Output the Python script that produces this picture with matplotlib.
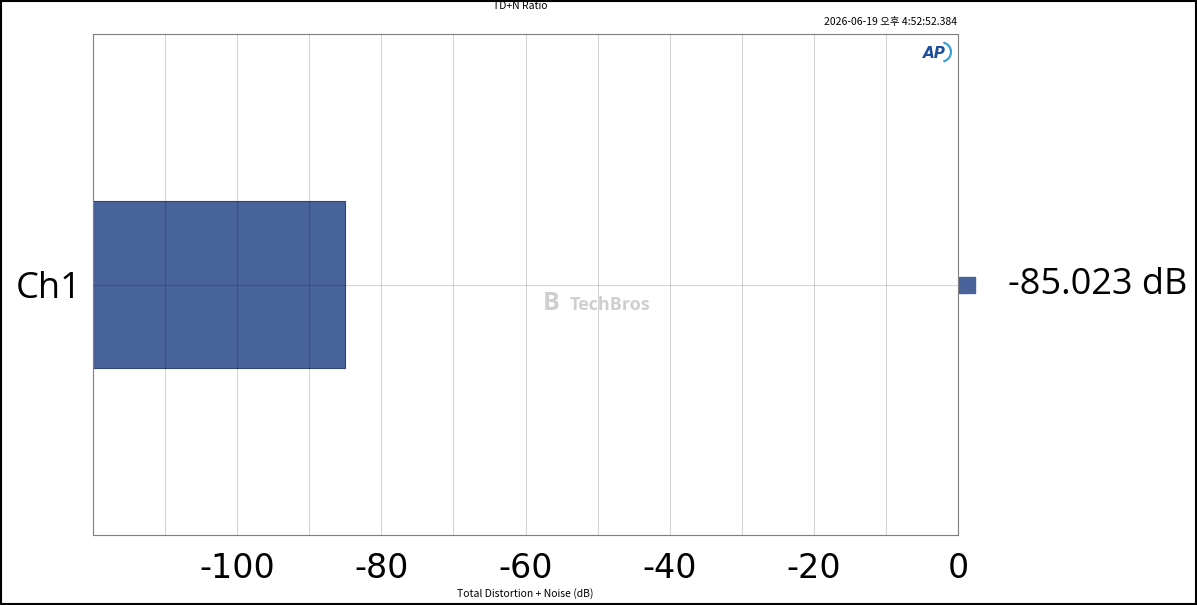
import matplotlib.pyplot as plt
from matplotlib.patches import Rectangle, Arc
import numpy as np

# data
channels = ['Ch1']
thdn_db = [-85.023]
x_ticks = [-100, -80, -60, -40, -20, 0]
x_min, x_max = -120, 0

titulo = 'TD+N Ratio'
carimbo = '2026-06-19 오후 4:52:52.384'
eixo_x = 'Total Distortion + Noise (dB)'

cor_barra = '#48629a'

plt.rcParams['font.family'] = ['Noto Sans CJK KR', 'DejaVu Sans']

fig = plt.figure(figsize=(11.97, 6.05), dpi=100)
ax = fig.add_axes([93/1197, 1 - 535/605, 865/1197, 501/605])

y = np.arange(len(channels))
base = x_min
ax.barh(y, [v - base for v in thdn_db], left=base, height=1.0,
        color=cor_barra, edgecolor='#34466e', linewidth=0.8, zorder=2)

ax.set_xlim(x_min, x_max)
ax.set_ylim(-1.5, 1.5)
ax.set_xticks(np.arange(-110, 0, 10), minor=True)
ax.set_xticks(x_ticks)
ax.set_xticklabels([str(t) for t in x_ticks], fontsize=24,
                   family=['Liberation Sans Narrow', 'DejaVu Sans'])
ax.set_yticks(y)
ax.set_yticklabels(channels, fontsize=26, family=['Open Sans', 'DejaVu Sans'])
ax.tick_params(axis='both', which='both', length=0)
ax.tick_params(axis='x', pad=12)
ax.tick_params(axis='y', pad=8)

ax.grid(axis='x', which='both', color='black', linewidth=0.8, zorder=3, alpha=0.16)
ax.grid(axis='y', color='black', linewidth=0.8, zorder=3, alpha=0.16)
ax.set_axisbelow(False)
for s in ax.spines.values():
    s.set_color('#7f7f7f')
    s.set_linewidth(0.8)

# legenda a direita
for i, v in enumerate(thdn_db):
    ax.plot([1.01], [y[i]], marker='s', markersize=11, color=cor_barra,
            transform=ax.get_yaxis_transform(), clip_on=False)
    ax.text(1.058, y[i], '%.3f dB' % v, transform=ax.get_yaxis_transform(),
            fontsize=26, family=['Open Sans', 'DejaVu Sans'], va='center', ha='left')

# textos
fig.text(520/1197, 1 - 6/605, titulo, fontsize=7.5, ha='center', va='center')
fig.text(957/1197, 1 - 22/605, carimbo, fontsize=7.5, ha='right', va='center')
fig.text(525/1197, 1 - 594/605, eixo_x, fontsize=7.5, ha='center', va='center')

# marca d'agua
fig.text(570/1197, 1 - 305/605, 'TechBros', fontsize=13, color='#cfcfcf',
         ha='left', va='center', weight='bold', family=['Open Sans', 'DejaVu Sans'])
fig.text(551/1197, 1 - 304/605, 'B', fontsize=18, color='#cfcfcf',
         ha='center', va='center', weight='bold', family=['Open Sans', 'DejaVu Sans'])

# logo AP
fig.text(934/1197, 1 - 53/605, 'AP', fontsize=11, color='#1f4f9c', weight='bold',
         style='italic', ha='center', va='center', family='DejaVu Sans')
fig.patches.append(Arc((940/1197, 1 - 52/605), 22/1197, 20/605, theta1=-80, theta2=80,
                       transform=fig.transFigure, color='#3aa0d8', lw=1.6))

# borda da figura
fig.patches.append(Rectangle((0.001, 0.001), 0.998, 0.997, transform=fig.transFigure,
                             fill=False, edgecolor='black', linewidth=1.5))

fig.savefig('out.png', dpi=100)
